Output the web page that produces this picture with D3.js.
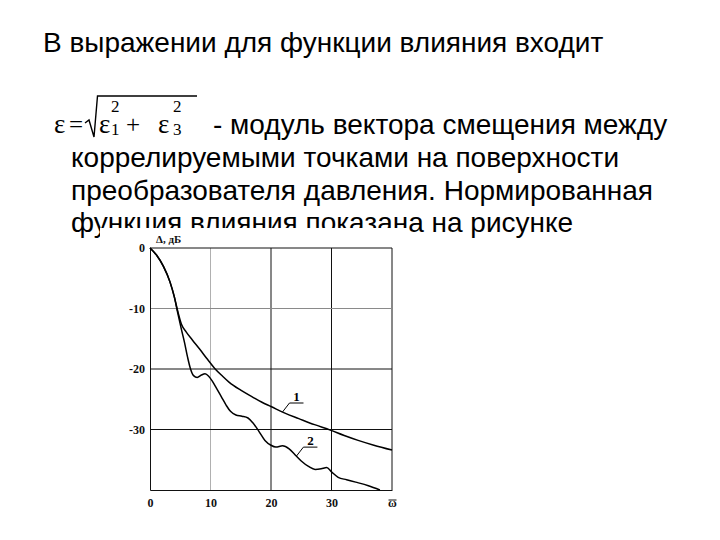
<!DOCTYPE html>
<html>
<head>
<meta charset="utf-8">
<script src="https://cdn.jsdelivr.net/npm/d3@7"></script>
<style>
  html, body { margin: 0; padding: 0; background: #fff; }
  svg { display: block; }
</style>
</head>
<body>
<svg id="chart" width="720" height="540"></svg>
<script>
// ---------- data ----------
const textLines = [
  "В выражении для функции влияния входит",
  "- модуль вектора смещения между",
  "коррелируемыми точками на поверхности",
  "преобразователя давления. Нормированная",
  "функция влияния показана на рисунке"
];
const yTicks = [0, -10, -20, -30];
const yTickLabels = ["0", "-10", "-20", "-30"];
const xTicks = [0, 10, 20, 30, 40];
const xTickLabels = ["0", "10", "20", "30", "ω"];
const yAxisTitle = "Δ, дБ";

// curve 1 (smooth)
const x1 = [0, 1.1, 2.2, 3.3, 4.0, 4.6, 5.2, 6.0, 7.0, 8.2, 9.5, 10.7, 12.0, 13.1, 15.0, 16.9, 18.5, 20.0, 22.3, 24.6, 27.2, 29.8, 32.1, 34.4, 37.0, 40.0];
const y1 = [0, -1.2, -3.0, -5.6, -8.0, -10.5, -12.6, -13.9, -15.2, -16.7, -18.4, -19.9, -21.2, -22.2, -23.5, -24.6, -25.5, -26.2, -27.3, -28.2, -29.2, -30.1, -31.0, -31.8, -32.6, -33.4];
// curve 2 (wavy)
const x2 = [0, 1.1, 2.2, 3.3, 4.0, 4.6, 5.2, 5.7, 6.2, 6.7, 7.2, 7.8, 8.5, 9.1, 9.7, 10.3, 11.0, 11.8, 12.6, 13.3, 14.2, 15.2, 16.2, 17.0, 18.0, 19.0, 20.0, 20.8, 21.9, 23.0, 24.0, 25.0, 26.2, 27.3, 28.3, 29.2, 30.0, 31.1, 32.5, 34.0, 36.1, 38.0];
const y2 = [0, -1.2, -3.0, -5.6, -8.0, -10.8, -13.5, -15.6, -18.0, -20.0, -21.1, -21.4, -21.0, -20.8, -21.2, -22.0, -23.2, -24.6, -26.0, -27.0, -27.6, -27.8, -28.1, -28.9, -30.3, -31.8, -32.6, -32.9, -32.7, -33.2, -34.2, -35.2, -36.1, -36.6, -36.5, -36.3, -37.0, -37.9, -38.3, -38.7, -39.3, -40.0];
const curveLabels = ["1", "2"];
const labelAnchorX = [21.9, 24.2];

// ---------- drawing ----------
const svg = d3.select("#chart");
svg.append("rect").attr("width", 720).attr("height", 540).attr("fill", "#fff");

const sans = "'Liberation Sans', Arial, sans-serif";
const serif = "'Liberation Serif', 'Times New Roman', serif";
const fs = 28;

// text block
svg.append("text").attr("x", 43).attr("y", 52)
  .attr("font-family", sans).attr("font-size", fs).attr("fill", "#000").text(textLines[0]);

// formula
const f = svg.append("g").attr("font-family", serif).attr("fill", "#000");
f.append("text").attr("x", 54).attr("y", 133).attr("font-size", 27).text("ε");
f.append("text").attr("x", 69).attr("y", 133).attr("font-size", 25).text("=");
svg.append("path").attr("d", "M85,123 L89,120 L94,137 L97.5,96 L197,96")
  .attr("fill", "none").attr("stroke", "#000").attr("stroke-width", 1.4);
f.append("text").attr("x", 99).attr("y", 133).attr("font-size", 27).text("ε");
f.append("text").attr("x", 111).attr("y", 112).attr("font-size", 17).text("2");
f.append("text").attr("x", 111).attr("y", 135).attr("font-size", 17).text("1");
f.append("text").attr("x", 126).attr("y", 133).attr("font-size", 25).text("+");
f.append("text").attr("x", 158).attr("y", 133).attr("font-size", 27).text("ε");
f.append("text").attr("x", 173).attr("y", 112).attr("font-size", 17).text("2");
f.append("text").attr("x", 173).attr("y", 135).attr("font-size", 17).text("3");

svg.append("text").attr("x", 213).attr("y", 134)
  .attr("font-family", sans).attr("font-size", fs).attr("fill", "#000").text(textLines[1]);
[167, 200, 232].forEach((yy, i) => {
  svg.append("text").attr("x", 71).attr("y", yy)
    .attr("font-family", sans).attr("font-size", fs).attr("fill", "#000").text(textLines[i + 2]);
});

// chart image background (covers bottom of last text line)
svg.append("rect").attr("x", 100).attr("y", 228).attr("width", 308).attr("height", 285).attr("fill", "#fff");

const x = d3.scaleLinear().domain([0, 40]).range([150, 392]);
const y = d3.scaleLinear().domain([0, -40]).range([248, 490]);

const g = svg.append("g");
// vertical grid lines
g.selectAll("line.vx").data(xTicks.slice(1)).join("line")
  .attr("x1", d => x(d)).attr("x2", d => x(d))
  .attr("y1", y(0)).attr("y2", y(-40))
  .attr("stroke", d => d === 10 ? "#b0b0b0" : "#111")
  .attr("stroke-width", 1);
// horizontal grid lines
g.selectAll("line.hy").data(yTicks.slice(1)).join("line")
  .attr("x1", x(0)).attr("x2", x(40))
  .attr("y1", d => y(d)).attr("y2", d => y(d))
  .attr("stroke", d => d === -10 ? "#8a8a8a" : "#111")
  .attr("stroke-width", 1);

// axes
const yAxis = d3.axisLeft(y).tickValues(yTicks).tickSize(0).tickPadding(5)
  .tickFormat((d, i) => yTickLabels[i]);
const gy = svg.append("g").attr("transform", `translate(${x(0)},0)`).call(yAxis);
gy.select(".domain").attr("stroke", "#111");
gy.selectAll("text").attr("font-family", serif).attr("font-weight", "bold").attr("font-size", 12).attr("fill", "#111");

const xAxis = d3.axisBottom(x).tickValues(xTicks).tickSize(0).tickPadding(8)
  .tickFormat((d, i) => xTickLabels[i]);
const gx = svg.append("g").attr("transform", `translate(0,${y(-40)})`).call(xAxis);
gx.select(".domain").attr("stroke", "#111");
gx.selectAll("text").attr("font-family", serif).attr("font-weight", "bold").attr("font-size", 12).attr("fill", "#111");
// overbar on the last x label (ω̄)
gx.selectAll(".tick").filter(d => d === 40).append("line")
  .attr("x1", -4).attr("x2", 4).attr("y1", 10).attr("y2", 10)
  .attr("stroke", "#111").attr("stroke-width", 1);

// top border
svg.append("line").attr("x1", x(0)).attr("x2", x(40)).attr("y1", y(0)).attr("y2", y(0))
  .attr("stroke", "#111").attr("stroke-width", 1);

svg.append("text").attr("x", x(0) + 6).attr("y", y(0) - 5)
  .attr("font-family", serif).attr("font-weight", "bold").attr("font-size", 11).attr("fill", "#111")
  .text(yAxisTitle);

// curves
const line = d3.line().x(d => x(d[0])).y(d => y(d[1])).curve(d3.curveMonotoneX);
const c1 = x1.map((v, i) => [v, y1[i]]);
const c2 = x2.map((v, i) => [v, y2[i]]);
[c1, c2].forEach(c => {
  svg.append("path").datum(c).attr("d", line)
    .attr("fill", "none").attr("stroke", "#000").attr("stroke-width", 1.5);
});

// curve labels with leader lines
const interp = (xs, ys, v) => {
  for (let i = 1; i < xs.length; i++) {
    if (v <= xs[i]) { const t = (v - xs[i-1]) / (xs[i] - xs[i-1]); return ys[i-1] + t * (ys[i] - ys[i-1]); }
  }
  return ys[ys.length - 1];
};
[[x1, y1], [x2, y2]].forEach(([xs, ys], i) => {
  const ax = x(labelAnchorX[i]);
  const ay = y(interp(xs, ys, labelAnchorX[i]));
  const ux = ax + 7, uy = ay - 9;
  svg.append("path").attr("d", `M${ax},${ay} L${ux},${uy} L${ux + 14},${uy}`)
    .attr("fill", "none").attr("stroke", "#000").attr("stroke-width", 1);
  svg.append("text").attr("x", ux + 7).attr("y", uy - 2).attr("text-anchor", "middle")
    .attr("font-family", serif).attr("font-weight", "bold").attr("font-size", 13).attr("fill", "#000")
    .text(curveLabels[i]);
});
</script>
</body>
</html>
